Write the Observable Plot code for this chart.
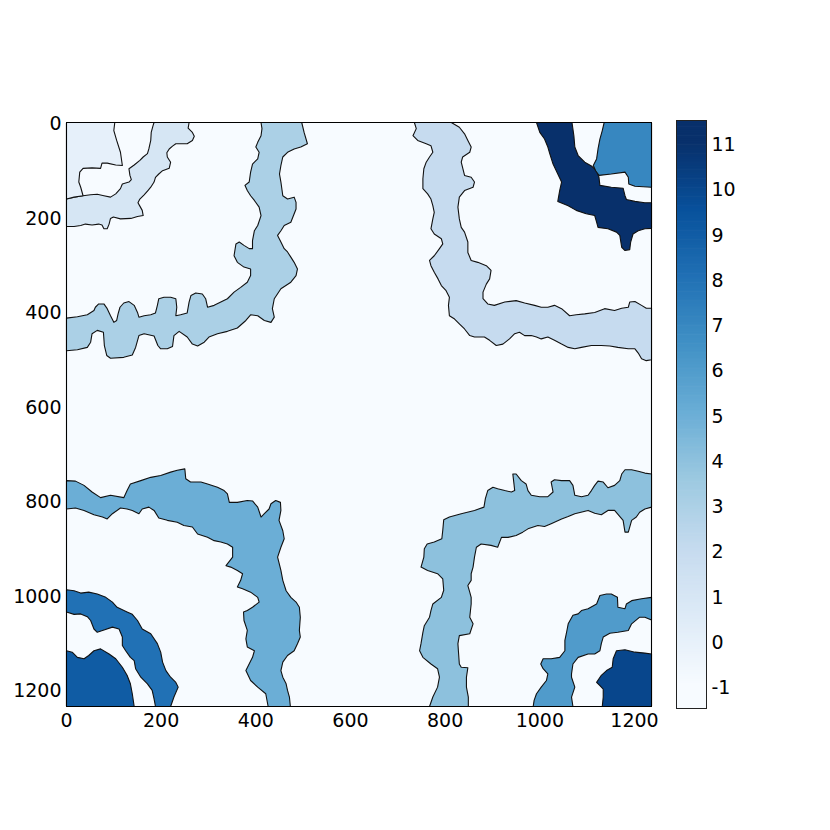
<!DOCTYPE html>
<html>
<head>
<meta charset="utf-8">
<script src="https://cdn.jsdelivr.net/npm/d3@7"></script>
<script src="https://cdn.jsdelivr.net/npm/@observablehq/plot@0.6"></script>
<style>
  html, body { margin: 0; padding: 0; background: #fff; }
  #wrap { position: relative; width: 830px; height: 830px; overflow: hidden; }
  #wrap svg { position: absolute; top: 0; }
</style>
</head>
<body>
<div id="wrap"></div>
<script>
// ---- image extent and ticks ----
const size = 1236;
const axisTicks = [0, 200, 400, 600, 800, 1000, 1200];
const colorTicks = [-1, 0, 1, 2, 3, 4, 5, 6, 7, 8, 9, 10, 11];
const colorbarRange = [-1.5, 11.5];
const labelRange = [-1, 11];
// matplotlib "Blues" colormap stops
const bluesStops = ["#f7fbff", "#deebf7", "#c6dbef", "#9ecae1", "#6baed6", "#4292c6", "#2171b5", "#08519c", "#08306b"];

// ---- region labels ----
const backgroundLabel = -1;

// ---- top-left: band label 3 ----
const tl3Outer = [[497,0],[502,21],[509,45],[495,52],[481,56],[467,63],[457,73],[453,91],[450,109],[453,126],[457,155],[467,162],[481,158],[485,169],[485,183],[474,211],[460,218],[453,229],[446,239],[453,253],[460,267],[467,274],[474,285],[481,296],[488,310],[485,324],[474,338],[453,352],[439,373],[435,394],[439,412],[432,423],[418,419],[404,409],[389,407],[379,419],[361,435],[340,442],[319,447],[301,454],[291,465],[277,473],[266,469],[255,454],[238,442],[227,451],[224,474],[213,479],[199,479],[193,472],[185,452],[164,447],[153,451],[146,476],[139,492],[121,497],[93,499],[85,493],[80,472],[78,444],[65,440],[54,447],[51,465],[44,476],[23,481],[0,483]];
const tl3Inner = [[411,0],[413,13],[411,28],[404,42],[400,52],[407,63],[404,77],[393,88],[389,105],[386,126],[377,133],[382,144],[389,155],[397,165],[407,179],[411,197],[404,218],[397,229],[393,250],[393,267],[386,267],[375,260],[365,253],[358,257],[354,282],[361,296],[375,306],[389,310],[389,324],[382,338],[368,349],[354,359],[340,373],[326,380],[312,387],[298,391],[294,373],[287,363],[273,361],[263,366],[259,380],[255,403],[241,407],[231,409],[233,391],[231,373],[220,370],[206,370],[195,373],[192,387],[188,403],[178,407],[164,409],[153,412],[150,402],[143,387],[132,379],[121,382],[113,391],[109,405],[106,419],[100,423],[93,409],[86,394],[79,384],[68,384],[61,391],[58,398],[44,407],[23,411],[0,414]];

// ---- top-left: band label 1 ----
const tl1Outer = [[259,0],[257,12],[266,21],[270,29],[266,38],[255,45],[241,45],[231,45],[224,50],[217,56],[212,64],[213,73],[220,84],[217,97],[203,102],[195,109],[188,116],[185,126],[178,137],[172,144],[164,153],[155,162],[151,170],[155,177],[160,186],[162,197],[150,199],[136,203],[114,204],[99,200],[93,203],[90,215],[86,225],[79,225],[75,217],[68,215],[54,217],[40,215],[30,218],[16,220],[0,220]];
const tl1Inner = [[185,0],[183,6],[179,21],[178,38],[174,56],[171,66],[162,73],[155,80],[143,90],[132,98],[134,112],[137,121],[132,126],[118,130],[114,140],[104,151],[93,158],[79,155],[65,152],[51,153],[35,155],[16,158],[0,162]];

// ---- top-left: corner label 0 ----
const tl0Corner = [[0,0],[102,0],[100,17],[106,38],[114,63],[118,91],[104,90],[86,86],[75,86],[72,97],[54,96],[35,97],[28,105],[26,126],[30,137],[35,155],[16,158],[0,162]];

// ---- top-right: band label 2 ----
const tr2Outer = [[735,0],[739,13],[732,28],[742,38],[760,45],[770,49],[774,63],[767,73],[760,84],[755,98],[753,119],[753,140],[763,151],[770,162],[774,176],[777,190],[774,204],[770,225],[777,236],[792,246],[795,257],[788,267],[777,282],[767,292],[770,303],[777,317],[785,331],[792,345],[802,356],[809,370],[807,387],[809,409],[820,416],[830,426],[841,437],[852,451],[862,454],[883,454],[894,461],[908,472],[922,469],[936,458],[947,447],[957,444],[968,451],[982,451],[993,454],[1003,458],[1017,454],[1031,461],[1046,469],[1060,476],[1074,479],[1088,476],[1109,472],[1130,472],[1148,473],[1165,476],[1187,479],[1201,479],[1208,488],[1215,500],[1225,504],[1236,502]];
const tr2Inner = [[813,0],[830,10],[841,24],[848,38],[855,52],[852,63],[837,73],[834,84],[841,112],[855,116],[862,126],[859,137],[841,144],[830,158],[827,179],[830,204],[834,222],[841,232],[848,253],[848,275],[855,292],[869,296],[887,303],[897,313],[894,331],[887,342],[880,359],[880,373],[890,384],[904,387],[926,380],[950,377],[968,382],[989,387],[1003,391],[1017,391],[1031,387],[1046,394],[1063,409],[1077,407],[1095,405],[1116,402],[1137,394],[1158,398],[1173,393],[1187,391],[1190,380],[1201,379],[1215,387],[1225,393],[1236,393]];

// ---- top-right: label 11 and corner label 7 ----
const tr11Region = [[993,0],[1000,21],[1010,35],[1017,52],[1021,66],[1028,88],[1038,109],[1046,126],[1042,144],[1038,167],[1060,176],[1077,186],[1098,193],[1116,197],[1120,211],[1123,222],[1144,225],[1162,232],[1169,239],[1173,264],[1180,271],[1190,269],[1192,253],[1197,236],[1208,229],[1222,225],[1236,224],[1236,170],[1222,170],[1201,167],[1183,163],[1180,155],[1176,139],[1151,137],[1127,133],[1125,116],[1120,102],[1109,92],[1095,84],[1081,70],[1074,52],[1072,28],[1068,0]];
const tr7Corner = [[1236,0],[1136,0],[1132,17],[1127,35],[1123,56],[1120,77],[1113,91],[1118,102],[1125,112],[1151,109],[1180,105],[1187,116],[1188,130],[1201,135],[1236,137]];

// ---- bottom-left: band label 5 ----
const bl5Outer = [[0,758],[19,759],[37,768],[54,782],[72,794],[93,789],[121,794],[128,779],[135,765],[157,758],[178,751],[199,747],[220,740],[234,736],[250,733],[252,754],[262,761],[284,761],[298,765],[319,772],[333,779],[340,786],[344,804],[361,804],[382,800],[393,801],[404,814],[411,835],[418,828],[428,818],[432,807],[442,800],[452,804],[453,821],[449,842],[457,864],[460,881],[453,899],[446,920],[453,948],[457,969],[464,991],[474,1005],[485,1015],[492,1026],[494,1047],[492,1075],[494,1089],[488,1103],[481,1118],[467,1128],[457,1142],[453,1160],[457,1174],[464,1188],[467,1202],[471,1216],[473,1236]];
const bl5Inner = [[0,818],[19,816],[37,821],[58,830],[76,835],[86,839],[97,828],[114,816],[128,818],[139,821],[153,828],[160,818],[174,814],[185,821],[195,837],[213,842],[234,846],[248,853],[266,856],[277,871],[298,878],[312,885],[326,888],[340,892],[351,899],[351,920],[337,938],[347,941],[361,948],[372,955],[368,969],[361,983],[372,987],[389,994],[404,1005],[407,1015],[393,1026],[382,1033],[374,1036],[375,1054],[382,1075],[379,1093],[382,1110],[397,1118],[393,1132],[379,1160],[389,1181],[404,1195],[421,1209],[426,1236]];

// ---- bottom-left: band label 8 and corner label 9 ----
const bl8Outer = [[0,989],[16,991],[30,996],[47,994],[65,998],[83,1005],[97,1015],[107,1026],[128,1036],[139,1041],[150,1054],[160,1072],[178,1082],[192,1103],[199,1121],[203,1142],[210,1160],[220,1174],[231,1185],[236,1195],[227,1216],[220,1236]];
const bl8Inner = [[0,1036],[16,1041],[30,1040],[44,1046],[51,1054],[58,1072],[65,1079],[76,1075],[97,1068],[111,1072],[118,1089],[118,1107],[125,1118],[135,1132],[143,1139],[146,1156],[157,1174],[171,1188],[181,1202],[185,1220],[188,1236]];
const bl9Corner = [[0,1236],[0,1118],[12,1121],[23,1132],[37,1135],[47,1128],[58,1118],[72,1114],[90,1125],[104,1135],[118,1153],[128,1170],[135,1188],[139,1209],[143,1236]];

// ---- bottom-right: band label 4 ----
const br4Outer = [[1236,744],[1222,742],[1208,738],[1194,735],[1180,735],[1173,744],[1169,758],[1158,768],[1144,773],[1134,761],[1123,759],[1116,768],[1109,779],[1102,789],[1088,792],[1074,789],[1070,768],[1063,758],[1046,758],[1031,756],[1024,761],[1028,782],[1017,792],[1000,792],[982,789],[975,779],[971,765],[961,758],[950,744],[943,744],[945,761],[947,779],[940,782],[926,779],[911,775],[901,772],[890,779],[885,796],[882,814],[862,821],[834,828],[809,835],[797,841],[795,863],[793,881],[777,888],[762,892],[756,902],[755,920],[751,934],[749,941],[763,948],[784,955],[795,966],[797,990],[792,1005],[774,1019],[770,1033],[767,1047],[756,1065],[753,1079],[749,1103],[746,1118],[753,1132],[770,1146],[784,1156],[788,1174],[784,1195],[774,1216],[767,1236]];
const br4Inner = [[1236,814],[1222,818],[1211,825],[1204,835],[1194,842],[1187,867],[1180,867],[1176,842],[1158,821],[1144,821],[1130,830],[1116,827],[1102,821],[1074,828],[1060,834],[1046,839],[1024,849],[1010,855],[996,853],[975,860],[964,867],[950,874],[933,878],[919,878],[911,899],[897,895],[876,892],[866,899],[862,920],[859,941],[855,955],[855,969],[848,980],[852,994],[855,1005],[855,1019],[852,1047],[859,1061],[852,1082],[830,1086],[827,1103],[828,1118],[830,1146],[834,1153],[848,1154],[845,1174],[845,1195],[849,1216],[849,1236]];

// ---- bottom-right: band label 6 and corner label 10 ----
const br6Outer = [[1236,1005],[1215,1008],[1194,1012],[1183,1019],[1180,1029],[1165,1026],[1164,1005],[1151,998],[1141,998],[1127,1001],[1120,1019],[1102,1029],[1088,1033],[1081,1040],[1070,1043],[1060,1061],[1056,1082],[1053,1096],[1053,1118],[1042,1132],[1024,1135],[1007,1135],[1002,1146],[1007,1156],[1017,1167],[1014,1181],[1003,1195],[993,1209],[988,1223],[986,1236]];
const br6Inner = [[1236,1053],[1222,1047],[1211,1047],[1194,1061],[1187,1075],[1165,1079],[1148,1081],[1134,1089],[1130,1103],[1127,1118],[1116,1125],[1102,1125],[1081,1132],[1070,1146],[1067,1167],[1067,1174],[1074,1195],[1067,1216],[1070,1236]];
const br10Corner = [[1236,1236],[1236,1125],[1222,1123],[1201,1121],[1180,1116],[1162,1118],[1155,1135],[1153,1153],[1141,1160],[1130,1170],[1120,1185],[1127,1192],[1134,1199],[1134,1216],[1132,1236]];

// ---- build region table ----
const ring = (id, label, outer, inner) => ({id, label, pts: outer.concat(inner.slice().reverse())});
const patch = (id, label, pts) => ({id, label, pts});
const regions = [
  patch("bg", backgroundLabel, [[0,0],[size,0],[size,size],[0,size]]),
  ring("tl3", 3, tl3Outer, tl3Inner),
  ring("tl1", 1, tl1Outer, tl1Inner),
  patch("tl0", 0, tl0Corner),
  ring("tr2", 2, tr2Outer, tr2Inner),
  patch("tr11", 11, tr11Region),
  patch("tr7", 7, tr7Corner),
  ring("bl5", 5, bl5Outer, bl5Inner),
  ring("bl8", 8, bl8Outer, bl8Inner),
  patch("bl9", 9, bl9Corner),
  ring("br4", 4, br4Outer, br4Inner),
  ring("br6", 6, br6Outer, br6Inner),
  patch("br10", 10, br10Corner)
];
const rows = regions.flatMap(r => r.pts.map(([x, y]) => ({id: r.id, label: r.label, x, y})));

// colour scale: matplotlib Blues spread over the label range, clamped
const stopDomain = bluesStops.map((_, i) => labelRange[0] + i * (labelRange[1] - labelRange[0]) / (bluesStops.length - 1));
const colorOpts = {type: "linear", domain: stopDomain, range: bluesStops, clamp: true, interpolate: "rgb"};
const font = {fontFamily: "'DejaVu Sans', sans-serif", fontSize: "19px", color: "#000", background: "transparent", overflow: "visible"};

const main = Plot.plot({
  width: 830, height: 830,
  marginLeft: 66, marginRight: 179, marginTop: 122, marginBottom: 124,
  style: font,
  x: {domain: [0, size], axis: null},
  y: {domain: [0, size], reverse: true, axis: null},
  color: colorOpts,
  marks: [
    Plot.line(rows, {x: "x", y: "y", z: "id", fill: "label", stroke: "#111", strokeWidth: 1.1, curve: "linear-closed"}),
    Plot.frame({stroke: "#000", strokeWidth: 1}),
    // x tick labels
    Plot.text(axisTicks, {x: d => d, y: size, text: d => String(d), lineAnchor: "top", dy: 7, fill: "#000"}),
    // y tick labels
    Plot.text(axisTicks, {x: 0, y: d => d, text: d => String(d), textAnchor: "end", dx: -5, dy: 1.5, fill: "#000"})
  ]
});
main.style.left = "0px";

// ---- colorbar ----
const cbStep = 0.05;
const cbSteps = d3.range(colorbarRange[0], colorbarRange[1], cbStep);
const cb = Plot.plot({
  width: 100, height: 830,
  marginLeft: 0, marginRight: 70, marginTop: 120, marginBottom: 122,
  style: font,
  x: {domain: [0, 1], axis: null},
  y: {domain: colorbarRange, axis: null},
  color: colorOpts,
  marks: [
    Plot.rect(cbSteps, {x1: 0, x2: 1, y1: d => d, y2: d => Math.min(d + cbStep * 1.3, colorbarRange[1]), fill: d => d + cbStep / 2}),
    Plot.frame({stroke: "#222", strokeWidth: 1}),
    Plot.text(colorTicks, {x: 1, y: d => d, text: d => String(d), textAnchor: "start", dx: 5, dy: 2, fill: "#000"})
  ]
});
cb.style.left = "676px";

const wrap = document.getElementById("wrap");
wrap.appendChild(main);
wrap.appendChild(cb);
</script>
</body>
</html>
